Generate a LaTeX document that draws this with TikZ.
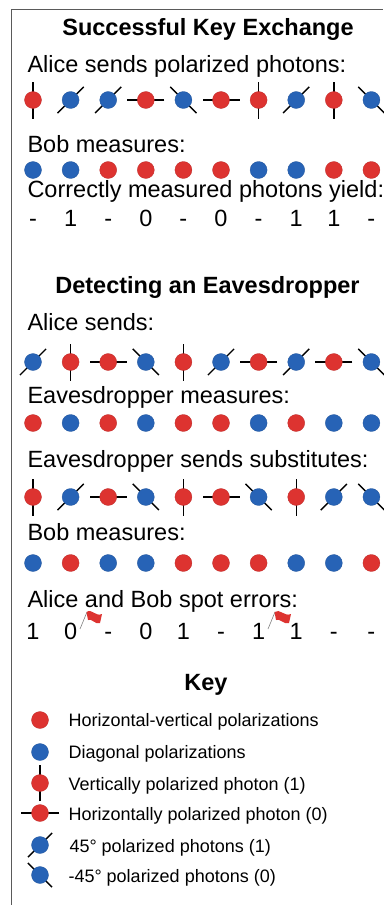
\documentclass[tikz,border=0pt]{standalone}
\usepackage{fontspec}
\setmainfont{Liberation Sans}
\definecolor{hvred}{RGB}{221,51,48}
\definecolor{dgblue}{RGB}{39,99,182}
\definecolor{framegray}{RGB}{90,90,90}

% one row of sent photons: y, list of colour/angle
\newcommand{\sendrow}[2]{%
  \foreach \c/\a [count=\i] in {#2} {
    \draw[pol] ({33+37.6*(\i-1)},#1) ++(\a:18.5) -- ++(\a+180:37);
    \filldraw[dot=\c] ({33+37.6*(\i-1)},#1) circle (8.5);
  }}
% one row of measuring bases
\newcommand{\measrow}[2]{%
  \foreach \c [count=\i] in {#2} {
    \filldraw[dot=\c] ({33+37.6*(\i-1)},#1) circle (8.5);
  }}
% one row of key bits: name, y, list
\newcommand{\bitrow}[3]{%
  \foreach \b [count=\i] in {#3} {
    \node[bit] (#1-\i) at ({33+37.6*(\i-1)},#2) {\b};
  }}

\begin{document}
\begin{tikzpicture}[x=1pt, y=-1pt,
    head/.style={font=\fontsize{23.5}{26}\selectfont\bfseries, anchor=base},
    row/.style={font=\fontsize{23.5}{26}\selectfont, anchor=base west},
    bit/.style={font=\fontsize{23.5}{26}\selectfont, anchor=base},
    keytext/.style={font=\fontsize{18}{21}\selectfont, anchor=base west},
    pol/.style={line width=1.4pt, black},
    dot/.style={draw=#1!85!black, line width=0.3pt, fill=#1}]
  \useasboundingbox (0,0) rectangle (383,905);
  \draw[framegray, line width=1pt] (11,905) -- (11,9) -- (383,9);

  % successful exchange
  \node[head] (succ) at (208,35) {Successful Key Exchange};
  \node[row] (asend) at (24,72) {Alice sends polarized photons:};
  \sendrow{100}{hvred/90, dgblue/-45, dgblue/-45, hvred/0, dgblue/45,
                hvred/0, hvred/90, dgblue/-45, hvred/90, dgblue/45}
  \node[row] (bmeas) at (24,152) {Bob measures:};
  \measrow{170}{dgblue, dgblue, hvred, hvred, hvred, hvred, dgblue, dgblue, hvred, hvred}
  \node[row] (yield) at (24,197) {Correctly measured photons yield:};
  \bitrow{ok}{226}{-, 1, -, 0, -, 0, -, 1, 1, -}

  % eavesdropper
  \node[head] (eve) at (207.5,293) {Detecting an Eavesdropper};
  \node[row] (asend2) at (24,330) {Alice sends:};
  \sendrow{362}{dgblue/-45, hvred/90, hvred/0, dgblue/45, hvred/90,
                dgblue/-45, hvred/0, dgblue/-45, hvred/0, dgblue/45}
  \node[row] (emeas) at (24,403) {Eavesdropper measures:};
  \measrow{423}{hvred, dgblue, hvred, dgblue, hvred, hvred, dgblue, hvred, dgblue, dgblue}
  \node[row] (esend) at (24,467) {Eavesdropper sends substitutes:};
  \sendrow{497}{hvred/90, dgblue/-45, hvred/0, dgblue/45, hvred/90,
                hvred/0, dgblue/45, hvred/90, dgblue/-45, dgblue/45}
  \node[row] (bmeas2) at (24,540) {Bob measures:};
  \measrow{563}{dgblue, hvred, dgblue, dgblue, hvred, hvred, hvred, dgblue, dgblue, hvred}
  \node[row] (spot) at (24,607) {Alice and Bob spot errors:};
  \bitrow{err}{639}{1, 0, -, 0, 1, -, 1, 1, -, -}

  % error flags
  \draw[gray, line width=0.6pt] (80,629) -- (87,612);
  \fill[hvred] (86.5,612) .. controls (92,608) and (95,617) .. (102,614)
    -- (100,623) .. controls (95,625) and (92,618) .. (88,620) -- cycle;
  \draw[gray, line width=0.6pt] (268,629) -- (275,612);
  \fill[hvred] (274.5,612) .. controls (280,608) and (284,617) .. (291,614)
    -- (289,623) .. controls (284,625) and (280,618) .. (276,620) -- cycle;

  % key
  \node[head] (key) at (206,690) {Key};
  \filldraw[dot=hvred] (40,720) circle (8.5);
  \node[keytext] (k1) at (65,726) {Horizontal-vertical polarizations};
  \filldraw[dot=dgblue] (40,752) circle (8.5);
  \node[keytext] (k2) at (65,758) {Diagonal polarizations};
  \draw[pol] (40,783) ++(90:18) -- ++(270:36);
  \filldraw[dot=hvred] (40,783) circle (8.5);
  \node[keytext] (k3) at (65,790) {Vertically polarized photon (1)};
  \draw[pol] (40,813) ++(0:19) -- ++(180:38);
  \filldraw[dot=hvred] (40,813) circle (8.5);
  \node[keytext] (k4) at (65,820) {Horizontally polarized photon (0)};
  \draw[pol] (40,845) ++(-45:17) -- ++(135:34);
  \filldraw[dot=dgblue] (40,845) circle (8.5);
  \node[keytext] (k5) at (66,852) {45° polarized photons (1)};
  \draw[pol] (40,875) ++(45:17) -- ++(225:34);
  \filldraw[dot=dgblue] (40,875) circle (8.5);
  \node[keytext] (k6) at (65,882) {-45° polarized photons (0)};
\end{tikzpicture}
\end{document}
